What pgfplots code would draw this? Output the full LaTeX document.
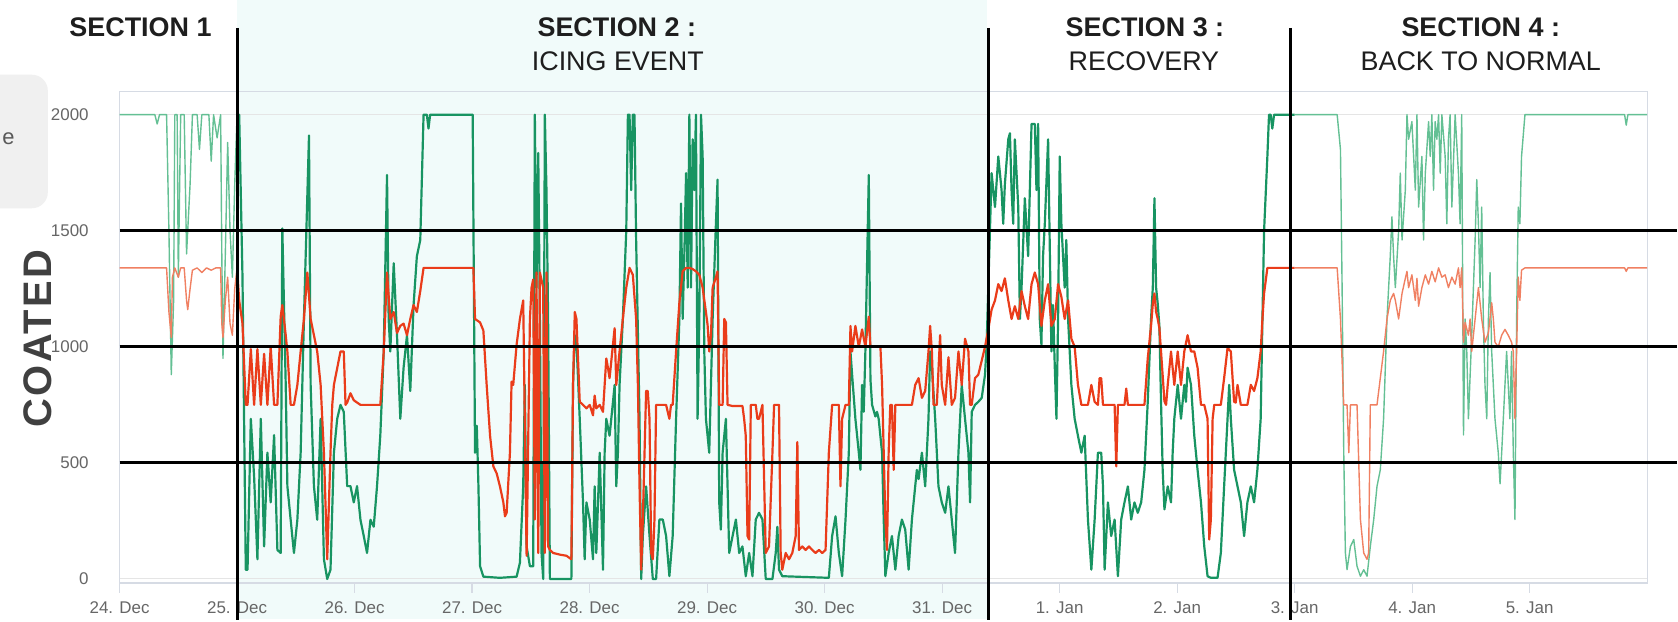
\documentclass[border=0pt]{standalone}
\usepackage{fontspec}
\setmainfont{Liberation Sans}
\newfontfamily\coatedfont[LetterSpace=6]{Liberation Sans}
\usepackage{pgfplots}
\pgfplotsset{compat=1.18}
\definecolor{gdark}{RGB}{24,148,98}
\definecolor{glight}{RGB}{100,192,148}
\definecolor{rdark}{RGB}{234,60,26}
\definecolor{rlight}{RGB}{240,128,98}
\definecolor{cyanbg}{RGB}{241,251,250}
\definecolor{ticklab}{RGB}{102,102,102}
\definecolor{framec}{RGB}{214,219,228}
\definecolor{titlec}{RGB}{30,30,30}
\begin{document}
\begin{tikzpicture}
\begin{scope}[x=0.5pt,y=-0.5pt]
\useasboundingbox (0,0) rectangle (1678,621);
\fill[white] (0,0) rectangle (1678,621);
\fill[cyanbg] (238,0) rectangle (991,621);
\fill[gray!12, rounded corners=8pt] (-20,75) rectangle (48,209);
\node[text=gray!70!black, font=\fontsize{11}{13}\selectfont, anchor=west, inner sep=0] at (2,139) {e};
\node[text=titlec, font=\bfseries\fontsize{13.5}{16}\selectfont, inner sep=0] at (141,27) {SECTION 1};
\node[text=titlec, font=\bfseries\fontsize{13.5}{16}\selectfont, inner sep=0] at (619,27) {SECTION 2 :};
\node[text=titlec, font=\fontsize{13.5}{16}\selectfont, inner sep=0] at (620,61) {ICING EVENT};
\node[text=titlec, font=\bfseries\fontsize{13.5}{16}\selectfont, inner sep=0] at (1149,27) {SECTION 3 :};
\node[text=titlec, font=\fontsize{13.5}{16}\selectfont, inner sep=0] at (1148,61) {RECOVERY};
\node[text=titlec, font=\bfseries\fontsize{13.5}{16}\selectfont, inner sep=0] at (1486,27) {SECTION 4 :};
\node[text=titlec, font=\fontsize{13.5}{16}\selectfont, inner sep=0] at (1486,61) {BACK TO NORMAL};
\node[text=titlec!85, font=\coatedfont\bfseries\fontsize{20}{24}\selectfont, rotate=90, inner sep=0] at (38,340) {COATED};
\end{scope}
\begin{axis}[
  at={(60pt,-292.5pt)}, anchor=south west,
  scale only axis, width=766.5pt, height=246.5pt,
  xmin=0, xmax=13, ymin=-17, ymax=2099,
  clip=false,
  axis line style={draw=framec, line width=0.6pt},
  ytick={0,500,1000,1500,2000},
  ymajorgrids, grid style={draw=gray!20, line width=0.5pt},
  xtick={0,1,2,3,4,5,6,7,8,9,10,11,12},
  xticklabels={24. Dec,25. Dec,26. Dec,27. Dec,28. Dec,29. Dec,30. Dec,31. Dec,1. Jan,2. Jan,3. Jan,4. Jan,5. Jan},
  tick label style={font=\fontsize{8.5}{10}\selectfont, text=ticklab},
  /pgf/number format/assume math mode=true,
  /pgf/number format/1000 sep={},
  scaled y ticks=false,
  xtick pos=lower, tick align=outside, major tick length=5pt,
  xtick style={draw=framec, line width=0.6pt},
  ytick style={draw=none},
  yticklabel style={xshift=-7pt},
  xticklabel style={yshift=-1pt},
  every axis plot/.append style={line join=round, mark=none},
]
% ---------- Section 1 ----------
\addplot[glight, line width=0.7pt] coordinates {
(0,2000)(0.30,2000)(0.32,1960)(0.34,2000)(0.40,2000)(0.42,1500)(0.44,880)(0.46,1200)(0.47,2000)(0.49,2000)(0.50,1300)(0.52,2000)(0.55,2000)(0.57,1400)(0.60,1700)(0.62,2000)(0.66,2000)(0.68,1850)(0.70,2000)(0.76,2000)(0.78,1800)(0.80,2000)(0.83,1900)(0.86,2000)(0.87,1400)(0.88,950)(0.90,1400)(0.92,1880)(0.94,1500)(0.96,1300)(0.98,1700)(1.0,2000)
};
\addplot[rlight, line width=0.7pt] coordinates {
(0,1340)(0.40,1340)(0.42,1150)(0.44,1040)(0.45,1300)(0.47,1340)(0.50,1300)(0.52,1340)(0.55,1340)(0.57,1200)(0.58,1160)(0.60,1250)(0.62,1330)(0.66,1340)(0.70,1320)(0.74,1340)(0.78,1330)(0.82,1340)(0.86,1340)(0.87,1100)(0.88,1040)(0.90,1200)(0.92,1300)(0.94,1100)(0.96,1050)(0.98,1250)(1.0,1340)
};
% ---------- Sections 2 and 3 ----------
\addplot[gdark, line width=1.1pt] coordinates {
(1.0,2000)(1.018,2000)(1.046,1300)(1.074,40)(1.089,40)(1.117,690)(1.145,440)(1.173,85)(1.202,690)(1.230,140)(1.258,544)(1.286,330)(1.315,620)(1.343,125)(1.371,112)(1.385,1510)(1.414,836)(1.428,400)(1.456,255)(1.484,112)(1.513,255)(1.541,544)(1.569,1120)(1.612,1910)(1.626,836)(1.654,400)(1.682,255)(1.711,690)(1.739,85)(1.767,0)(1.795,40)(1.824,544)(1.852,690)(1.880,750)(1.908,720)(1.937,400)(1.965,400)(1.993,330)(2.021,400)(2.050,255)(2.078,185)(2.106,112)(2.135,255)(2.163,225)(2.191,400)(2.219,620)(2.248,980)(2.276,1740)(2.290,1120)(2.304,980)(2.333,1360)(2.361,1050)(2.389,690)(2.417,910)(2.446,1050)(2.474,810)(2.502,1180)(2.530,1390)(2.559,1460)(2.587,2000)(2.615,2000)(2.629,1940)(2.643,2000)(3.005,2000)
(3.025,544)(3.040,660)(3.054,400)(3.068,55)(3.096,10)(3.237,5)(3.379,10)(3.407,70)(3.435,400)(3.449,836)(3.464,140)(3.492,55)(3.520,55)(3.534,2000)(3.548,1255)(3.563,1835)(3.577,1120)(3.591,112)(3.605,0)(3.619,2000)(3.633,1675)(3.647,1120)(3.662,0)(3.845,0)(3.859,836)(3.874,1050)(3.888,1025)(3.916,690)(3.944,330)(3.958,85)(3.973,330)(4.001,256)(4.029,85)(4.043,399)(4.057,112)(4.086,544)(4.114,40)(4.128,544)(4.142,690)(4.170,617)(4.199,763)(4.213,836)(4.227,399)(4.241,544)(4.255,836)(4.283,1120)(4.312,1500)(4.326,2000)(4.340,2000)(4.354,1675)(4.368,2000)(4.382,2000)(4.396,1460)(4.425,690)(4.439,0)(4.453,185)(4.481,399)(4.510,185)(4.538,0)(4.566,0)(4.594,256)(4.623,256)(4.651,185)(4.679,12)(4.707,185)(4.736,690)(4.764,1120)(4.778,1617)(4.792,1120)(4.806,1391)(4.821,1748)(4.835,1255)(4.849,2000)(4.863,1255)(4.877,1894)(4.891,1675)(4.905,2000)(4.919,690)(4.934,1120)(4.948,2000)(4.962,1820)(4.976,980)(4.990,690)(5.004,617)(5.018,544)(5.047,1120)(5.075,1530)(5.089,1720)(5.103,330)(5.117,213)(5.132,544)(5.160,690)(5.188,112)(5.217,185)(5.245,256)(5.273,112)(5.301,140)(5.329,12)(5.358,112)(5.386,12)(5.414,256)(5.442,285)(5.471,256)
(5.499,0)(5.556,0)(5.584,112)(5.598,225)(5.612,40)(5.640,12)(6.036,5)(6.064,185)(6.093,270)(6.121,112)(6.149,12)(6.178,256)(6.206,544)(6.220,980)(6.234,880)(6.262,690)(6.291,544)(6.305,470)(6.319,836)(6.333,720)(6.347,980)(6.376,1740)(6.390,860)(6.404,750)(6.432,700)(6.446,720)(6.460,690)(6.489,544)(6.503,256)(6.517,12)(6.545,112)(6.573,185)(6.602,40)(6.630,185)(6.658,256)(6.686,213)(6.715,40)(6.743,256)(6.771,399)(6.785,470)(6.800,430)(6.828,544)(6.856,399)(6.884,690)(6.898,980)(6.913,910)(6.941,690)(6.969,399)(6.997,330)(7.026,285)(7.054,399)(7.082,256)(7.110,112)(7.139,544)(7.167,836)(7.195,690)(7.224,544)(7.238,330)(7.252,720)(7.280,750)(7.308,763)(7.337,780)(7.365,880)(7.379,1010)(7.393,1255)(7.407,1500)(7.421,1748)(7.450,1602)(7.478,1820)(7.506,1675)(7.520,1530)(7.534,1700)(7.563,1894)(7.577,1920)(7.591,1675)(7.605,1530)(7.619,1894)(7.648,1602)(7.662,1120)(7.676,1255)(7.704,1640)(7.732,1391)(7.761,1960)(7.789,1960)(7.803,1675)(7.817,1960)(7.831,1120)(7.845,1010)(7.859,1391)(7.874,1530)(7.902,1894)(7.930,980)(7.944,1180)(7.959,910)(7.973,690)(7.987,1120)(8.001,1820)(8.015,1530)(8.043,1255)(8.057,1460)(8.072,1120)(8.100,836)(8.128,690)(8.156,617)(8.185,544)
(8.213,617)(8.241,256)(8.270,40)(8.298,256)(8.326,544)(8.354,544)(8.369,399)(8.383,40)(8.411,330)(8.439,185)(8.468,256)(8.496,12)(8.524,256)(8.552,330)(8.581,399)(8.609,256)(8.637,330)(8.665,285)(8.694,330)(8.722,470)(8.750,763)(8.778,1120)(8.793,1255)(8.807,1640)(8.821,1255)(8.835,1185)(8.849,1090)(8.863,763)(8.877,470)(8.892,300)(8.920,399)(8.948,330)(8.962,544)(8.976,690)(9.005,836)(9.033,690)(9.061,836)(9.075,763)(9.089,910)(9.118,836)(9.146,617)(9.174,470)(9.203,330)(9.231,140)(9.259,12)(9.287,5)(9.344,5)(9.372,112)(9.400,399)(9.429,690)(9.443,836)(9.457,690)(9.485,470)(9.514,399)(9.542,330)(9.570,185)(9.598,330)(9.627,399)(9.655,330)(9.683,470)(9.711,690)(9.726,1120)(9.740,1500)(9.768,1820)(9.782,2000)(9.796,2000)(9.810,1940)(9.825,2000)(10.0,2000)
};
\addplot[rdark, line width=1.1pt] coordinates {
(1.0,1340)(1.018,1200)(1.046,1100)(1.074,750)(1.089,750)(1.117,990)(1.145,750)(1.173,990)(1.202,750)(1.230,970)(1.258,750)(1.286,1000)(1.315,750)(1.343,750)(1.371,1130)(1.385,1180)(1.414,1050)(1.428,980)(1.456,750)(1.484,750)(1.513,836)(1.541,980)(1.569,1120)(1.598,1320)(1.626,1120)(1.654,1050)(1.682,980)(1.711,836)(1.739,544)(1.767,85)(1.795,544)(1.810,750)(1.824,836)(1.880,980)(1.908,980)(1.923,750)(1.937,760)(1.965,800)(1.993,770)(2.021,760)(2.050,750)(2.191,750)(2.219,750)(2.248,980)(2.276,1320)(2.304,1120)(2.333,1150)(2.361,1060)(2.389,1090)(2.417,1100)(2.446,1050)(2.474,1120)(2.502,1180)(2.530,1150)(2.559,1240)(2.587,1340)(3.011,1340)
(3.025,1120)(3.068,1105)(3.096,1070)(3.124,836)(3.153,617)(3.181,485)(3.209,455)(3.237,399)(3.266,330)(3.280,270)(3.294,285)(3.322,544)(3.336,850)(3.350,836)(3.379,1010)(3.407,1120)(3.435,1200)(3.464,100)(3.492,1120)(3.506,1255)(3.520,1290)(3.534,256)(3.548,1320)(3.563,112)(3.577,1320)(3.605,1255)(3.619,112)(3.633,1320)(3.647,140)(3.662,125)(3.690,112)(3.746,105)(3.803,100)(3.831,90)(3.845,85)(3.859,836)(3.874,1150)(3.888,1120)(3.916,763)(3.944,750)(3.973,735)(4.001,750)(4.029,705)(4.043,790)(4.057,735)(4.086,750)(4.114,720)(4.142,950)(4.156,910)(4.170,865)(4.199,1010)(4.213,1080)(4.227,836)(4.255,980)(4.283,1120)(4.312,1255)(4.340,1340)(4.368,1310)(4.396,1120)(4.411,836)(4.425,399)(4.439,40)(4.453,256)(4.481,810)(4.495,810)(4.510,690)(4.524,112)(4.538,85)(4.552,256)(4.566,750)(4.651,750)(4.679,690)(4.693,750)(4.707,750)(4.736,980)(4.764,1190)(4.792,1325)(4.821,1340)(4.849,1340)(4.877,1335)(4.905,1325)(4.934,1310)(4.962,1255)(4.990,1150)(5.004,1095)(5.018,980)(5.033,1050)(5.047,1255)(5.075,1300)(5.089,1325)(5.103,750)(5.132,750)(5.146,1120)(5.160,1105)(5.174,750)(5.217,745)(5.301,745)(5.315,690)(5.329,617)(5.344,185)(5.358,170)(5.372,750)(5.414,750)(5.428,690)(5.442,690)(5.471,750)
(5.499,112)(5.527,140)(5.556,544)(5.570,750)(5.612,750)(5.626,112)(5.640,40)(5.669,112)(5.697,85)(5.725,112)(5.754,185)(5.768,590)(5.782,125)(5.810,140)(5.838,125)(5.867,140)(5.895,125)(5.923,112)(5.952,125)(5.980,112)(6.008,125)(6.036,544)(6.064,750)(6.121,750)(6.135,399)(6.149,690)(6.178,750)(6.206,750)(6.220,1090)(6.234,980)(6.262,1090)(6.291,1000)(6.319,1075)(6.347,1000)(6.376,1130)(6.390,1000)(6.475,1000)(6.489,836)(6.517,256)(6.531,125)(6.545,544)(6.559,750)(6.573,750)(6.588,470)(6.602,750)(6.743,750)(6.771,836)(6.800,865)(6.828,780)(6.856,810)(6.884,980)(6.898,1090)(6.913,980)(6.927,750)(6.955,750)(6.983,1050)(6.997,836)(7.026,750)(7.054,955)(7.082,750)(7.110,780)(7.139,980)(7.167,836)(7.195,1035)(7.224,980)(7.238,750)(7.252,750)(7.280,865)(7.308,880)(7.337,940)(7.365,1000)(7.393,1075)(7.421,1160)(7.450,1200)(7.478,1270)(7.506,1240)(7.534,1295)(7.563,1200)(7.591,1120)(7.619,1175)(7.648,1120)(7.676,1240)(7.704,1175)(7.732,1120)(7.761,1270)(7.789,1320)(7.817,1270)(7.845,1090)(7.874,1200)(7.902,1270)(7.930,1090)(7.959,1120)(7.987,1270)(8.015,1215)(8.043,1120)(8.072,1200)(8.100,1035)(8.128,1000)(8.156,836)(8.185,750)
(8.213,750)(8.241,750)(8.270,836)(8.298,763)(8.326,750)(8.340,865)(8.354,865)(8.369,750)(8.468,750)(8.482,485)(8.496,750)(8.552,750)(8.567,820)(8.581,750)(8.722,750)(8.750,950)(8.778,1090)(8.793,1185)(8.807,1230)(8.821,1150)(8.835,1120)(8.849,1080)(8.863,980)(8.892,765)(8.906,750)(8.920,836)(8.948,980)(8.976,836)(9.005,980)(9.033,836)(9.061,980)(9.089,1050)(9.118,980)(9.146,980)(9.174,910)(9.203,750)(9.231,750)(9.259,690)(9.273,170)(9.287,256)(9.302,690)(9.316,750)(9.372,750)(9.400,865)(9.429,995)(9.457,980)(9.485,763)(9.499,760)(9.514,836)(9.542,750)(9.598,750)(9.627,836)(9.655,810)(9.683,865)(9.711,980)(9.726,1120)(9.740,1230)(9.768,1340)(9.796,1340)(10.0,1340)
};
% ---------- Section 4 ----------
\addplot[glight, line width=0.7pt] coordinates {
(10.0,2000)(10.362,2000)(10.390,1850)(10.404,1255)(10.418,544)(10.432,112)(10.446,40)(10.475,140)(10.503,170)(10.531,55)(10.560,12)(10.588,40)(10.616,12)(10.644,140)(10.673,256)(10.701,399)(10.729,470)(10.757,690)(10.786,1120)(10.814,1391)(10.828,1560)(10.842,1391)(10.857,1255)(10.885,1500)(10.899,1748)(10.914,1460)(10.942,1675)(10.956,2000)(10.970,1894)(10.998,1970)(11.027,1675)(11.041,2000)(11.055,1602)(11.083,1820)(11.097,1460)(11.112,1748)(11.140,1970)(11.154,1820)(11.168,2000)(11.182,1675)(11.196,1970)(11.210,1894)(11.225,2000)(11.239,1748)(11.253,2000)(11.281,1820)(11.295,1530)(11.309,1894)(11.323,2000)(11.338,1602)(11.366,2000)(11.394,1748)(11.408,1530)(11.422,2000)(11.437,620)(11.451,1120)(11.465,980)(11.479,690)(11.507,1050)(11.536,1460)(11.550,1720)(11.564,1530)(11.578,1255)(11.592,1602)(11.606,1120)(11.620,836)(11.635,690)(11.649,1120)(11.663,1320)(11.677,980)(11.705,690)(11.733,544)(11.748,410)(11.762,544)(11.790,836)(11.804,980)(11.818,836)(11.832,690)(11.846,980)(11.861,544)(11.875,256)(11.889,1120)(11.903,1602)(11.917,1530)(11.931,1820)(11.960,2000)(12.808,2000)(12.822,1955)(12.836,2000)(13.0,2000)
};
\addplot[rlight, line width=0.7pt] coordinates {
(10.0,1340)(10.362,1340)(10.390,1120)(10.418,750)(10.446,750)(10.461,544)(10.475,750)(10.531,750)(10.560,256)(10.588,112)(10.616,85)(10.630,112)(10.644,750)(10.701,750)(10.729,865)(10.757,980)(10.786,1120)(10.814,1200)(10.842,1230)(10.857,1200)(10.885,1120)(10.914,1230)(10.942,1295)(10.956,1325)(10.970,1255)(10.998,1310)(11.027,1200)(11.041,1295)(11.055,1175)(11.083,1255)(11.112,1310)(11.140,1270)(11.168,1325)(11.196,1280)(11.225,1340)(11.253,1300)(11.281,1310)(11.309,1255)(11.338,1300)(11.366,1270)(11.394,1340)(11.408,1255)(11.422,1340)(11.437,1020)(11.451,1105)(11.479,1050)(11.493,1120)(11.507,980)(11.536,1120)(11.564,1255)(11.578,1190)(11.592,1120)(11.620,1020)(11.649,1060)(11.677,1190)(11.691,1120)(11.705,1020)(11.733,1000)(11.762,1050)(11.790,1075)(11.818,1050)(11.846,1020)(11.861,980)(11.875,690)(11.889,980)(11.903,1300)(11.917,1200)(11.931,1330)(11.960,1340)(12.808,1340)(12.822,1325)(12.836,1340)(13.0,1340)
};
% ---------- overlay lines ----------
\draw[black, line width=1.5pt] (axis cs:0,1500) -- (axis cs:13.25,1500);
\draw[black, line width=1.5pt] (axis cs:0,1000) -- (axis cs:13.25,1000);
\draw[black, line width=1.5pt] (axis cs:0,500) -- (axis cs:13.25,500);
\draw[black, line width=1.5pt] (axis cs:1,2374) -- (axis cs:1,-175);
\draw[black, line width=1.5pt] (axis cs:7.392,2374) -- (axis cs:7.392,-175);
\draw[black, line width=1.5pt] (axis cs:9.964,2374) -- (axis cs:9.964,-175);
\end{axis}
\end{tikzpicture}
\end{document}
